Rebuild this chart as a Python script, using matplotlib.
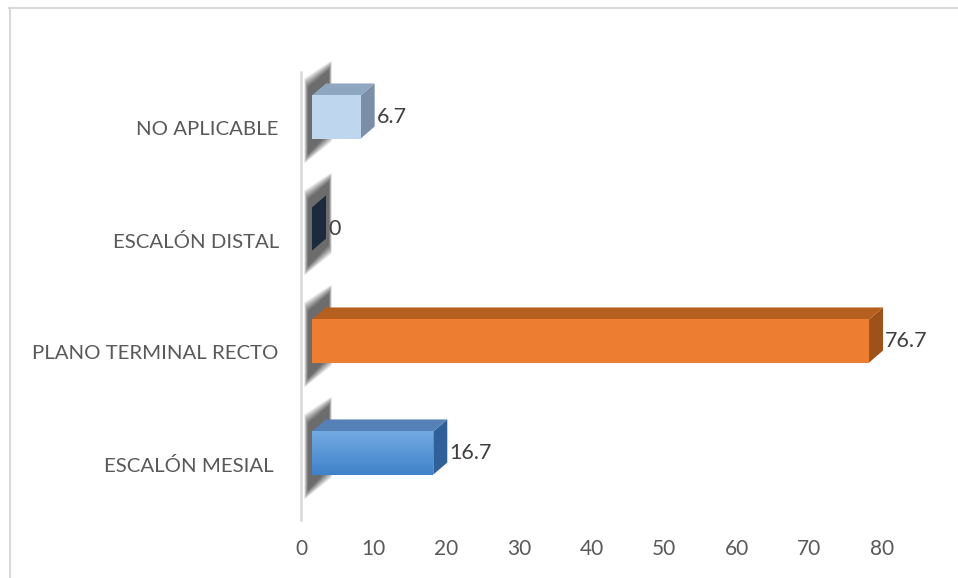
import matplotlib
matplotlib.use("Agg")
import matplotlib.pyplot as plt
from matplotlib.patches import Polygon
from matplotlib.transforms import IdentityTransform
from matplotlib.lines import Line2D
import numpy as np

plt.rcParams['font.family'] = ['Lato', 'DejaVu Sans']

categories = ["ESCALÓN MESIAL ", "PLANO TERMINAL RECTO", "ESCALÓN DISTAL", "NO APLICABLE"]
values = [16.7, 76.7, 0, 6.7]
value_labels = ["16.7", "76.7", "0", "6.7"]
xticks = [0, 10, 20, 30, 40, 50, 60, 70, 80]

front_colors = [("#72a9e2", "#3f82c9"), ("#ed7d31", "#ed7d31"), ("#1c2b3d", "#1c2b3d"), ("#bed7ee", "#bed7ee")]
top_colors = ["#5581b6", "#b5601f", "#24374d", "#8fa6c1"]
side_colors = ["#30609a", "#9c5219", "#1b2a3c", "#7a8fa7"]

W, H = 958, 578
fig = plt.figure(figsize=(W / 100, H / 100), dpi=100)
fig.patch.set_facecolor("white")

ax = fig.add_axes([301 / W, 1 - 520 / H, (882 - 301) / W, (520 - 72) / H])
ax.set_xlim(0, 80)
ax.set_ylim(-0.5, 3.5)
for s in ax.spines.values():
    s.set_visible(False)
ax.spines['left'].set_visible(True)
ax.spines['left'].set_color("#d9d9d9")
ax.spines['left'].set_linewidth(1.8)
ax.set_xticks(xticks)
ax.set_xticklabels([str(t) for t in xticks], fontsize=15, color="#595959")
ax.set_yticks(range(len(categories)))
ax.set_yticklabels(categories, fontsize=14.7, color="#595959")
ax.tick_params(axis='x', length=0, pad=14)
ax.tick_params(axis='y', length=0, pad=16)
ax.patch.set_alpha(0)

# figure border (top and left)
fig.add_artist(Line2D([9 / W, 1], [1 - 8 / H, 1 - 8 / H], color="#d9d9d9", lw=1.5, transform=fig.transFigure))
fig.add_artist(Line2D([10 / W, 10 / W], [0, 1 - 8 / H], color="#d9d9d9", lw=1.5, transform=fig.transFigure))

fig.canvas.draw()

bar_h = 0.385
fx, fy = 11, 11     # front face offset (pixels)
dx, dy = 14, 12     # depth offset (pixels)
ident = IdentityTransform()


def poly(pts, color, alpha=1.0, z=3, ec='none'):
    p = Polygon(pts, closed=True, facecolor=color, edgecolor=ec, alpha=alpha,
                transform=ident, zorder=z, clip_on=False, lw=0)
    ax.add_artist(p)


for i, (v, lab) in enumerate(zip(values, value_labels)):
    (x0, yb), (x1, yt) = ax.transData.transform([(0, i - bar_h / 2), (v, i + bar_h / 2)])
    x0 += fx; x1 += fx; yb += fy; yt += fy
    # blurred wall shadow
    for k in range(10):
        g = 9 - k
        sh = [(x0 - 4 - g * 0.4, yt + 8 + g), (x0 + dx + 3 + g * 0.3, yt + 26 + g),
              (x0 + dx + 3 + g * 0.3, yb + 6 - g), (x0 - 4 - g * 0.4, yb - 16 - g)]
        poly(sh, "#000000", alpha=0.08, z=2)
    # side face
    poly([(x1, yb), (x1, yt), (x1 + dx, yt + dy), (x1 + dx, yb + dy)], side_colors[i], z=4)
    # top face
    poly([(x0, yt), (x1, yt), (x1 + dx, yt + dy), (x0 + dx, yt + dy)], top_colors[i], z=4)
    # front face with vertical gradient
    c_top, c_bot = [np.array(matplotlib.colors.to_rgb(c)) for c in front_colors[i]]
    n = 40
    if x1 > x0:
        for k in range(n):
            t = k / (n - 1)
            ya = yt - (yt - yb) * k / n
            yb2 = yt - (yt - yb) * (k + 1) / n
            col = c_top * (1 - t) + c_bot * t
            poly([(x0, yb2 - 0.5), (x1, yb2 - 0.5), (x1, ya), (x0, ya)], col, z=5)
    # value label
    ax.text(x1 + dx + 2, (yt + yb) / 2, lab, transform=ident, fontsize=15.5,
            color="#404040", va='center', ha='left', zorder=6)

fig.savefig("out.png", dpi=100, facecolor="white")
